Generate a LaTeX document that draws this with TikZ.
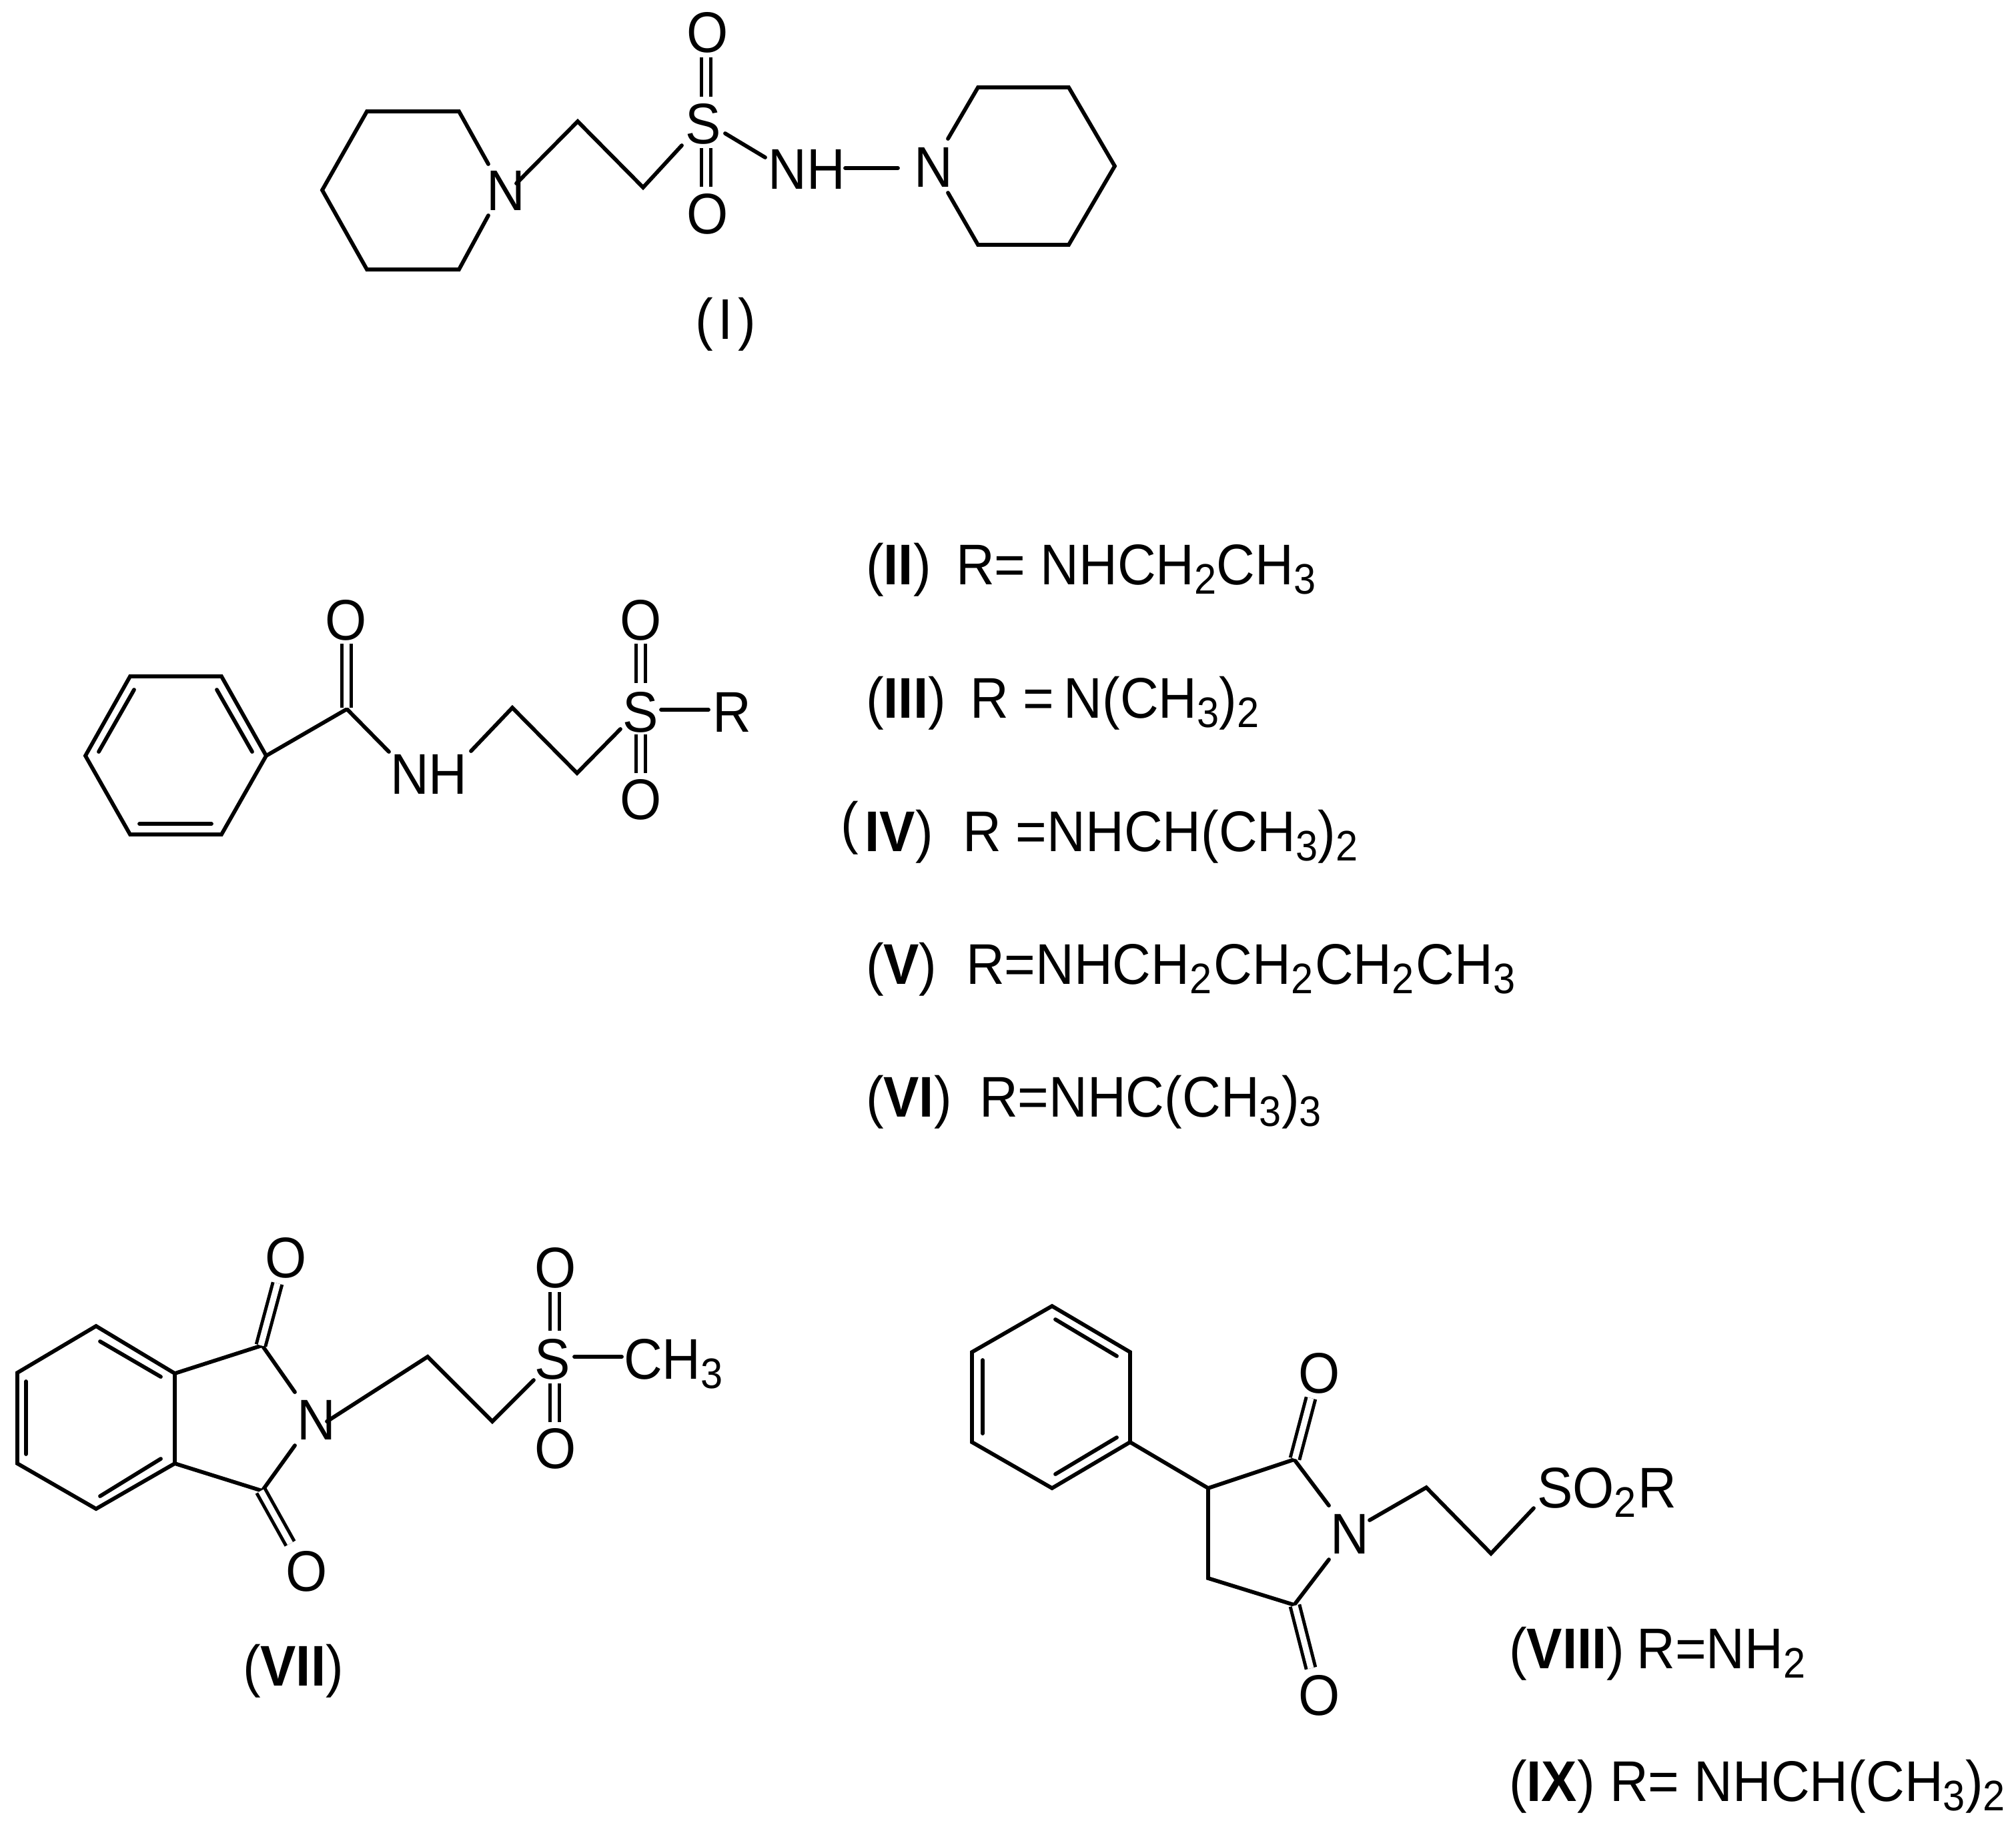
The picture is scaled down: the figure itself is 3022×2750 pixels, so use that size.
\documentclass[tikz,border=0pt]{standalone}
\usepackage{fontspec}
\setmainfont[FakeStretch=0.93]{Liberation Sans}
\newcommand{\sbs}[1]{\raisebox{-14pt}{\fontsize{64}{64}\selectfont #1}}
\tikzset{
  bond/.style={line width=5.8pt,line cap=round,line join=miter,black},
  dbl/.style={double=white,double distance=9pt,line width=5pt,line cap=butt,black},
  atom/.style={inner sep=0pt,outer sep=0pt,font=\fontsize{86}{96}\selectfont,anchor=center},
  txt/.style={inner sep=0pt,outer sep=0pt,font=\fontsize{86}{96}\selectfont,anchor=base west}
}
\begin{document}
\begin{tikzpicture}[x=1pt,y=-1pt]
\useasboundingbox (0,0) rectangle (3022,2750);
\fill[white] (0,0) rectangle (3022,2750);

% ---------- Structure I ----------
\foreach \n/\x/\y in {a1/550/167,a2/688/167,a3/732/246,a4/732/323,a5/688/404,a6/550/404,a7/483/285,
  c1/774/275,c2/866/182,c3/964/281,c4/1022/218,
  d1/1058/86,d2/1058/145,d3/1058/222,d4/1058/280,
  e1/1087/200,e2/1147/236,e3/1267/252,e4/1346/252,
  f1/1421/208,f2/1466/131,f3/1602/131,f4/1671/249,f5/1602/367,f6/1466/367,f7/1421/289}
  {\coordinate (\n) at (\x,\y);}
\node[atom] (N1) at (758,286) {N};
\node[atom] (S1) at (1054,186) {S};
\node[atom] (O1a) at (1061,49) {O};
\node[atom] (O1b) at (1061,321) {O};
\node[atom] (NH1) at (1209,254) {NH};
\node[atom] (N2) at (1399,251) {N};
\draw[bond] (a3)--(a2)--(a1)--(a7)--(a6)--(a5)--(a4);
\draw[bond] (c1)--(c2)--(c3)--(c4);
\draw[dbl] (d1)--(d2);
\draw[dbl] (d3)--(d4);
\draw[bond] (e1)--(e2);
\draw[bond] (e3)--(e4);
\draw[bond] (f1)--(f2)--(f3)--(f4)--(f5)--(f6)--(f7);
\node[txt] (L1) at (1042,508) {(\hspace{8pt}I\hspace{8pt})};

% ---------- Structure II-VI ----------
\foreach \n/\x/\y in {g1/195/1014,g2/332/1014,g3/399/1133,g4/332/1251,g5/195/1251,g6/128/1133,
  g7/325/1034,g8/378/1127,g9/201/1034,g10/148/1127,g11/209/1235,g12/317/1235,
  h1/520/1063,h2/519/965,h3/519/1061,h4/583/1127,
  i1/706/1126,i2/768/1061,i3/865/1159,i4/930/1093,
  j1/960/965,j2/960/1024,j3/960/1101,j4/960/1159,
  k1/991/1064,k2/1062/1064}
  {\coordinate (\n) at (\x,\y);}
\node[atom] (O2a) at (519,930) {O};
\node[atom] (NH2) at (643,1161) {NH};
\node[atom] (S2) at (960,1068) {S};
\node[atom] (O2b) at (961,930) {O};
\node[atom] (O2c) at (961,1199) {O};
\node[atom] (R2) at (1097,1068) {R};
\draw[bond] (g1)--(g2)--(g3)--(g4)--(g5)--(g6)--cycle;
\draw[bond] (g7)--(g8);
\draw[bond] (g9)--(g10);
\draw[bond] (g11)--(g12);
\draw[bond] (g3)--(h1)--(h4);
\draw[dbl] (h2)--(h3);
\draw[bond] (i1)--(i2)--(i3)--(i4);
\draw[dbl] (j1)--(j2);
\draw[dbl] (j3)--(j4);
\draw[bond] (k1)--(k2);

\node[txt] (L2) at (1298,876) {(\textbf{II})};
\node[txt] (F2) at (1433,876) {R= NHCH\sbs{2}CH\sbs{3}};
\node[txt] (L3) at (1298,1076) {(\textbf{III})};
\node[txt] (F3) at (1454,1076) {R =\hspace{14pt}N(CH\sbs{3})\sbs{2}};
\node[txt] (L4) at (1260,1276) {\raisebox{13pt}{(}\hspace{10pt}\textbf{IV})};
\node[txt] (F4) at (1443,1276) {R =NHCH(CH\sbs{3})\sbs{2}};
\node[txt] (L5) at (1298,1475) {(\textbf{V})};
\node[txt] (F5) at (1448,1475) {R=NHCH\sbs{2}\hspace{3pt}CH\sbs{2}\hspace{3pt}CH\sbs{2}\hspace{3pt}CH\sbs{3}};
\node[txt] (L6) at (1298,1674) {(\textbf{VI})};
\node[txt] (F6) at (1468,1674) {R=NHC(CH\sbs{3})\sbs{3}};

% ---------- Structure VII ----------
\foreach \n/\x/\y in {m1/144/1988,m2/262/2059,m3/262/2194,m4/144/2262,m5/26/2194,m6/26/2058,
  m7/150/2011,m8/241/2064,m9/39/2071,m10/39/2180,m11/150/2243,m12/241/2187,
  n1/393/2017,n2/393/2235,n3/442/2087,n4/442/2167,
  n5/391/2017,n6/416/1924,n7/391/2235,n8/435/2314,
  q1/490/2131,q2/641/2034,q3/738/2131,q4/800/2069,
  r1/831/1937,r2/831/1995,r3/831/2074,r4/831/2132,
  t1/861/2034,t2/932/2034}
  {\coordinate (\n) at (\x,\y);}
\node[atom] (O7a) at (429,1886) {O};
\node[atom] (O7b) at (460,2356) {O};
\node[atom] (N7) at (474,2129) {N};
\node[atom] (S7) at (828,2038) {S};
\node[atom] (O7c) at (833,1901) {O};
\node[atom] (O7d) at (833,2172) {O};
\node[txt] (C7) at (935,2067) {CH\sbs{3}};
\draw[bond] (m1)--(m2)--(m3)--(m4)--(m5)--(m6)--cycle;
\draw[bond] (m7)--(m8);
\draw[bond] (m9)--(m10);
\draw[bond] (m11)--(m12);
\draw[bond] (m2)--(n1)--(n3);
\draw[bond] (m3)--(n2)--(n4);
\draw[dbl] (n5)--(n6);
\draw[dbl] (n7)--(n8);
\draw[bond] (q1)--(q2)--(q3)--(q4);
\draw[dbl] (r1)--(r2);
\draw[dbl] (r3)--(r4);
\draw[bond] (t1)--(t2);
\node[txt] (L7) at (364,2527) {(\textbf{VII})};

% ---------- Structure VIII-IX ----------
\foreach \n/\x/\y in {u1/1577/1958,u2/1694/2027,u3/1694/2162,u4/1577/2231,u5/1457/2162,u6/1457/2027,
  u7/1582/1978,u8/1674/2033,u9/1473/2039,u10/1473/2149,u11/1582/2210,u12/1674/2155,
  v1/1811/2231,v2/1940/2188,v3/1811/2366,v4/1940/2406,v5/1992/2257,v6/1992/2338,
  w1/1941/2187,w2/1965/2096,w3/1941/2407,w4/1965/2501,
  z1/2053/2279,z2/2138/2230,z3/2235/2329,z4/2299/2261}
  {\coordinate (\n) at (\x,\y);}
\node[atom] (O8a) at (1978,2059) {O};
\node[atom] (O8b) at (1978,2542) {O};
\node[atom] (N8) at (2023,2300) {N};
\node[txt] (F8) at (2304,2260) {SO\sbs{2}\hspace{3pt}R};
\draw[bond] (u1)--(u2)--(u3)--(u4)--(u5)--(u6)--cycle;
\draw[bond] (u7)--(u8);
\draw[bond] (u9)--(u10);
\draw[bond] (u11)--(u12);
\draw[bond] (u3)--(v1)--(v2)--(v5);
\draw[bond] (v1)--(v3)--(v4)--(v6);
\draw[dbl] (w1)--(w2);
\draw[dbl] (w3)--(w4);
\draw[bond] (z1)--(z2)--(z3)--(z4);
\node[txt] (L8) at (2262,2501) {(\textbf{VIII})\hspace{18pt}R=NH\sbs{2}};
\node[txt] (L9) at (2262,2700) {(\textbf{IX}) R= NHCH(CH\sbs{3})\sbs{2}};
\end{tikzpicture}
\end{document}
